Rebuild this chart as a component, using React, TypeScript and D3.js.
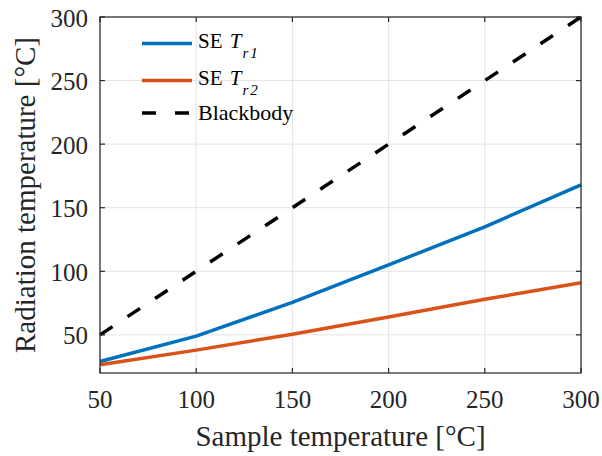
import React from "react";
import * as d3 from "d3";

const sampleTemps = [50, 100, 150, 200, 250, 300];
const seTr1 = [29, 49, 75.5, 105, 135, 168];
const seTr2 = [26.5, 38, 50.5, 64, 78, 91];
const blackbody = [50, 100, 150, 200, 250, 300];
const xTicks = [50, 100, 150, 200, 250, 300];
const yTicks = [50, 100, 150, 200, 250, 300];

const W = 602;
const H = 456;
const M = { left: 100, right: 21, top: 17, bottom: 83 };
const FONT = "'Liberation Serif', 'Times New Roman', serif";
const AXC = "#262626";

export default function App() {
  const x = d3.scaleLinear().domain([50, 300]).range([M.left, W - M.right]);
  const y = d3.scaleLinear().domain([20, 300]).range([H - M.bottom, M.top]);
  const line = d3
    .line<number>()
    .x((_, i) => x(sampleTemps[i]))
    .y((d) => y(d));
  const x0 = M.left, x1 = W - M.right, y0 = H - M.bottom, y1 = M.top;
  const tl = 5;
  const legX0 = 142, legX1 = 192, legTx = 198;
  const legRows = [43.5, 80.5, 113];
  return (
    <svg width={W} height={H} style={{ position: "absolute", left: 0, top: 0, fontFamily: FONT }}>
      <rect x={0} y={0} width={W} height={H} fill="#fff" />
      {/* grid */}
      {xTicks.map((t) => (
        <line key={"gx" + t} x1={x(t)} x2={x(t)} y1={y0} y2={y1} stroke="#e3e3e3" strokeWidth={1} />
      ))}
      {yTicks.map((t) => (
        <line key={"gy" + t} x1={x0} x2={x1} y1={y(t)} y2={y(t)} stroke="#e3e3e3" strokeWidth={1} />
      ))}
      {/* lines */}
      <path d={line(seTr1) || ""} fill="none" stroke="#0072BD" strokeWidth={3.5} strokeLinejoin="round" />
      <path d={line(seTr2) || ""} fill="none" stroke="#D95319" strokeWidth={3.5} strokeLinejoin="round" />
      <path d={line(blackbody) || ""} fill="none" stroke="#000" strokeWidth={3.5} strokeDasharray="15,18" />
      {/* box */}
      <rect x={x0} y={y1} width={x1 - x0} height={y0 - y1} fill="none" stroke={AXC} strokeWidth={1.2} />
      {xTicks.map((t) => (
        <g key={"tx" + t}>
          <line x1={x(t)} x2={x(t)} y1={y0} y2={y0 - tl} stroke={AXC} strokeWidth={1.2} />
          <line x1={x(t)} x2={x(t)} y1={y1} y2={y1 + tl} stroke={AXC} strokeWidth={1.2} />
          <text x={x(t)} y={408} fontSize={25} textAnchor="middle" fill={AXC}>{t}</text>
        </g>
      ))}
      {yTicks.map((t) => (
        <g key={"ty" + t}>
          <line x1={x0} x2={x0 + tl} y1={y(t)} y2={y(t)} stroke={AXC} strokeWidth={1.2} />
          <line x1={x1} x2={x1 - tl} y1={y(t)} y2={y(t)} stroke={AXC} strokeWidth={1.2} />
          <text x={88} y={y(t) + 9.5} fontSize={25} textAnchor="end" fill={AXC}>{t}</text>
        </g>
      ))}
      <text x={(x0 + x1) / 2} y={446} fontSize={29} textAnchor="middle" fill={AXC}>Sample temperature [°C]</text>
      <text transform={`translate(35, ${(y0 + y1) / 2}) rotate(-90)`} fontSize={29} textAnchor="middle" fill={AXC}>Radiation temperature [°C]</text>
      {/* legend */}
      <line x1={legX0} x2={legX1} y1={legRows[0]} y2={legRows[0]} stroke="#0072BD" strokeWidth={3.5} />
      <line x1={legX0} x2={legX1} y1={legRows[1]} y2={legRows[1]} stroke="#D95319" strokeWidth={3.5} />
      <line x1={legX0} x2={legX1} y1={legRows[2]} y2={legRows[2]} stroke="#000" strokeWidth={3.5} strokeDasharray="14,19" />
      {["1", "2"].map((s, i) => (
        <text key={s} x={legTx} y={legRows[i] + 4} fontSize={21} fill="#000">
          SE <tspan fontStyle="italic" dx={2}>T</tspan>
          <tspan fontStyle="italic" fontSize={15} dy={10} dx={1}>r</tspan>
          <tspan fontStyle="italic" fontSize={15} dx={2}>{s}</tspan>
        </text>
      ))}
      <text x={legTx} y={legRows[2] + 7} fontSize={22} fill="#000">Blackbody</text>
    </svg>
  );
}
